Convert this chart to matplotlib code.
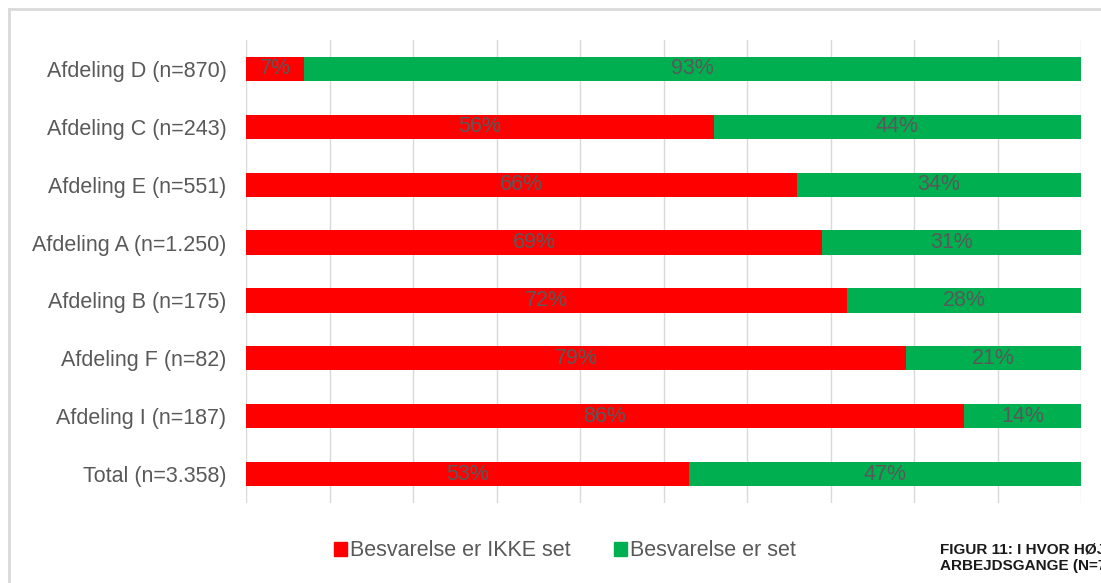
import matplotlib
matplotlib.use("Agg")
import matplotlib.pyplot as plt
from matplotlib.lines import Line2D
from matplotlib.patches import Patch

plt.rcParams['font.family'] = ['Liberation Sans', 'DejaVu Sans']

categories = ["Afdeling D (n=870)", "Afdeling C (n=243)", "Afdeling E (n=551)",
              "Afdeling A (n=1.250)", "Afdeling B (n=175)", "Afdeling F (n=82)",
              "Afdeling I (n=187)", "Total (n=3.358)"]
not_seen = [7, 56, 66, 69, 72, 79, 86, 53]
seen = [93, 44, 34, 31, 28, 21, 14, 47]
series_names = ["Besvarelse er IKKE set", "Besvarelse er set"]
colors = ["#FF0000", "#00B050"]

W, H = 1101, 583
fig = plt.figure(figsize=(W / 100, H / 100), dpi=100)

# outer frame
fig.add_artist(Line2D([9 / W, 9 / W], [0, 1 - 9 / H], transform=fig.transFigure, color="#D9D9D9", lw=2))
fig.add_artist(Line2D([9 / W, 1.0], [1 - 9 / H, 1 - 9 / H], transform=fig.transFigure, color="#D9D9D9", lw=2))

left, right = 246 / W, 1081 / W
top, bottom = 1 - 40 / H, 1 - 503 / H
ax = fig.add_axes([left, bottom, right - left, top - bottom])

y = list(range(len(categories)))
ax.barh(y, not_seen, height=0.42, color=colors[0], label=series_names[0])
ax.barh(y, seen, left=not_seen, height=0.42, color=colors[1], label=series_names[1])

fs = 15.5
for i in y:
    ax.text(not_seen[i] / 2, i, f"{not_seen[i]}%", ha="center", va="center",
            fontsize=fs, color="#595959")
    ax.text(not_seen[i] + seen[i] / 2, i, f"{seen[i]}%", ha="center", va="center",
            fontsize=fs, color="#595959")

ax.set_xlim(0, 100)
ax.set_ylim(len(categories) - 0.5, -0.5)
ax.set_xticks(range(0, 101, 10))
ax.set_xticklabels([])
ax.tick_params(axis="x", length=0)
ax.tick_params(axis="y", length=0, pad=14, labelsize=fs, labelcolor="#595959")
ax.set_yticks(y)
ax.set_yticklabels(categories)
ax.grid(axis="x", color="#D9D9D9", lw=1)
ax.set_axisbelow(True)
for s in ax.spines.values():
    s.set_visible(False)

handles = [Patch(color=colors[0]), Patch(color=colors[1])]
fig.legend(handles, series_names, loc="center", bbox_to_anchor=(565 / W, 1 - 551 / H),
           ncol=2, frameon=False, fontsize=fs, labelcolor="#595959",
           handlelength=0.6, handleheight=0.6, handletextpad=0.15, columnspacing=2.0)

fig.text(940 / W, 1 - 542 / H, "FIGUR 11: I HVOR HØJ\nARBEJDSGANGE (N=7",
         fontsize=11, fontweight="bold", color="#1a1a1a", va="top", ha="left",
         linespacing=1.3)

fig.savefig("out.png", dpi=100)
